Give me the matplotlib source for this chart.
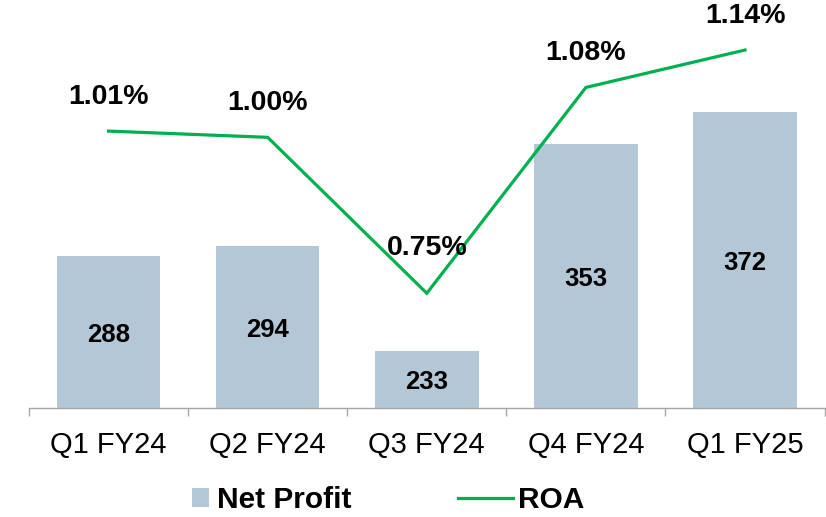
import matplotlib
matplotlib.use("Agg")
import matplotlib.pyplot as plt
from matplotlib.patches import Patch
from matplotlib.lines import Line2D

categories = ["Q1 FY24", "Q2 FY24", "Q3 FY24", "Q4 FY24", "Q1 FY25"]
net_profit = [288, 294, 233, 353, 372]
roa = [1.01, 1.00, 0.75, 1.08, 1.14]

plt.rcParams['font.family'] = ['Liberation Sans', 'DejaVu Sans']

BAR_COLOR = "#B4C7D6"
LINE_COLOR = "#00B050"
SPINE_COLOR = "#A6A6A6"

fig = plt.figure(figsize=(8.26, 5.17), dpi=100)
ax = fig.add_axes([29/826, 109/517, 796/826 - 0.0005, 408/517])

x = list(range(len(categories)))
bars = ax.bar(x, net_profit, width=0.65, color=BAR_COLOR, zorder=2)
ax.set_xlim(-0.5, len(categories) - 0.5)
ax.set_ylim(200, 436.75)

for xi, v in zip(x, net_profit):
    ax.annotate(f"{v}", (xi, (200 + v) / 2), xytext=(0, -2), textcoords="offset points",
                ha="center", va="center",
                fontsize=18.5, fontweight="bold", color="black", zorder=5)

for s in ["top", "right", "left"]:
    ax.spines[s].set_visible(False)
ax.spines["bottom"].set_color(SPINE_COLOR)
ax.spines["bottom"].set_linewidth(1.0)
ax.set_yticks([])
ax.set_xticks(x)
ax.set_xticklabels(categories, fontsize=21)
ax.tick_params(axis="x", which="major", length=0, pad=16.5)
ax.set_xticks([i - 0.5 for i in range(len(categories) + 1)], minor=True)
ax.tick_params(axis="x", which="minor", length=6, width=1.0, color=SPINE_COLOR, direction="out")

ax2 = ax.twinx()
ax2.plot(x, roa, color=LINE_COLOR, lw=2.3, zorder=3, solid_joinstyle="miter")
ax2.set_ylim(0.566, 1.2202)
for s in ax2.spines.values():
    s.set_visible(False)
ax2.set_yticks([])

label_offsets = [24.5, 24.5, 32.5, 24.5, 24.5]
for xi, v, off in zip(x, roa, label_offsets):
    ax2.annotate(f"{v:.2f}%", (xi, v), xytext=(0, off), textcoords="offset points",
                 ha="center", va="center", fontsize=20.5, fontweight="bold",
                 color="black", zorder=6, annotation_clip=False)

leg1 = fig.legend(handles=[Patch(facecolor=BAR_COLOR, edgecolor="none")],
                  labels=["Net Profit"], loc="center left",
                  bbox_to_anchor=(192/826, 1 - 500/517), frameon=False,
                  borderpad=0, borderaxespad=0, handlelength=0.57, handleheight=0.57,
                  handletextpad=0.27, prop={"size": 21.5, "weight": "bold"})
leg2 = fig.legend(handles=[Line2D([0], [0], color=LINE_COLOR, lw=2.3)],
                  labels=["ROA"], loc="center left",
                  bbox_to_anchor=(458/826, 1 - 500/517), frameon=False,
                  borderpad=0, borderaxespad=0, handlelength=1.84,
                  handletextpad=0.17, prop={"size": 21.5, "weight": "bold"})

fig.savefig("out.png", dpi=100)
